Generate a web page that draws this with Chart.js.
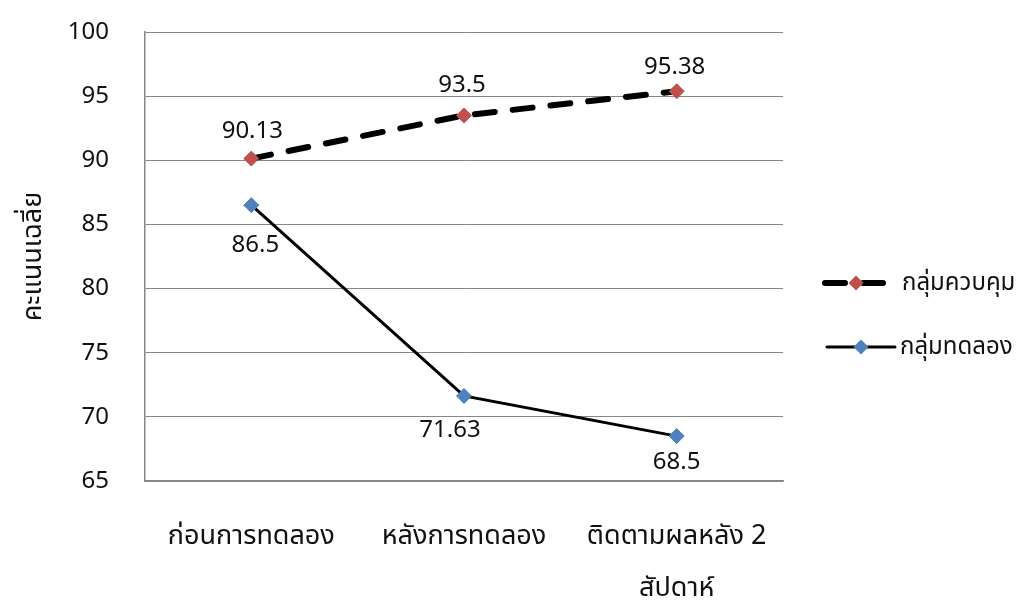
<!DOCTYPE html>
<html>
<head>
<meta charset="utf-8">
<script src="https://cdn.jsdelivr.net/npm/chart.js@4.4.1/dist/chart.umd.min.js"></script>
<style>
  html, body { margin: 0; padding: 0; background: #ffffff; }
  #wrap { width: 1019px; height: 601px; position: relative; }
</style>
</head>
<body>
<div id="wrap"><canvas id="chart"></canvas></div>
<script>
// Mean scores of the two groups at each measurement point
const categories = ['ก่อนการทดลอง', 'หลังการทดลอง', ['ติดตามผลหลัง 2', 'สัปดาห์']];
const controlScores = [90.13, 93.5, 95.38];
const experimentScores = [86.5, 71.63, 68.5];
const seriesNames = ['กลุ่มควบคุม', 'กลุ่มทดลอง'];
const axisTitle = 'คะแนนเฉลี่ย';
const yMin = 65;
const yMax = 100;
const yStep = 5;

const FONT = "'Noto Sans', 'Noto Sans Thai', 'DejaVu Sans', sans-serif";
const GRID = '#878787';
const TEXT = '#111111';
const RED = '#C0504D';
const BLUE = '#4F81BD';

// Value labels beside each point, offset per point (dx, dy from the marker)
const valueLabels = {
  id: 'valueLabels',
  afterDatasetsDraw(chart) {
    const ctx = chart.ctx;
    ctx.save();
    ctx.font = '24px ' + FONT;
    ctx.fillStyle = TEXT;
    ctx.textAlign = 'center';
    ctx.textBaseline = 'middle';
    chart.data.datasets.forEach((ds, di) => {
      const meta = chart.getDatasetMeta(di);
      meta.data.forEach((pt, i) => {
        const off = ds.labelOffsets[i];
        ctx.fillText(String(ds.data[i]), pt.x + off[0], pt.y + off[1]);
      });
    });
    ctx.restore();
  }
};

// Legend at the right: line sample with marker, then the series name
const sideLegend = {
  id: 'sideLegend',
  afterDraw(chart) {
    const ctx = chart.ctx;
    const items = [
      { name: seriesNames[0], y: 283, x0: 825, x1: 887, width: 6, dash: [20, 18], color: RED, tx: 902 },
      { name: seriesNames[1], y: 347, x0: 827, x1: 895, width: 3, dash: [], color: BLUE, tx: 900 }
    ];
    items.forEach(it => {
      ctx.save();
      ctx.strokeStyle = '#000000';
      ctx.lineWidth = it.width;
      ctx.lineCap = 'round';
      ctx.setLineDash(it.dash);
      ctx.beginPath();
      ctx.moveTo(it.x0, it.y);
      ctx.lineTo(it.x1, it.y);
      ctx.stroke();
      ctx.setLineDash([]);
      const cx = (it.x0 + it.x1) / 2, r = 7.5;
      ctx.fillStyle = it.color;
      ctx.beginPath();
      ctx.moveTo(cx, it.y - r);
      ctx.lineTo(cx + r, it.y);
      ctx.lineTo(cx, it.y + r);
      ctx.lineTo(cx - r, it.y);
      ctx.closePath();
      ctx.fill();
      ctx.font = '24px ' + FONT;
      ctx.fillStyle = TEXT;
      ctx.textAlign = 'left';
      ctx.textBaseline = 'middle';
      ctx.fillText(it.name, it.tx, it.y);
      ctx.restore();
    });
  }
};

new Chart(document.getElementById('chart'), {
  type: 'line',
  data: {
    labels: categories,
    datasets: [
      {
        label: seriesNames[0],
        data: controlScores,
        borderColor: '#000000',
        borderWidth: 6,
        borderDash: [20, 18],
        borderCapStyle: 'round',
        pointStyle: 'rectRot',
        pointRadius: 7.5,
        pointBorderWidth: 1,
        pointBackgroundColor: RED,
        pointBorderColor: RED,
        tension: 0,
        labelOffsets: [[1, -27], [-2, -30], [-2, -24]]
      },
      {
        label: seriesNames[1],
        data: experimentScores,
        borderColor: '#000000',
        borderWidth: 3,
        pointStyle: 'rectRot',
        pointRadius: 7.5,
        pointBorderWidth: 1,
        pointBackgroundColor: BLUE,
        pointBorderColor: BLUE,
        tension: 0,
        labelOffsets: [[4, 40], [-14, 34], [0, 26]]
      }
    ]
  },
  options: {
    responsive: true,
    maintainAspectRatio: false,
    animation: false,
    layout: { padding: { top: 32, right: 236, left: 0, bottom: 0 } },
    plugins: {
      legend: { display: false },
      tooltip: { enabled: false }
    },
    scales: {
      x: {
        offset: true,
        grid: { display: false, drawTicks: false },
        border: { display: true, color: GRID, width: 1.5 },
        ticks: {
          color: TEXT,
          font: { family: FONT, size: 27, lineHeight: '52px' },
          padding: 29,
          maxRotation: 0,
          minRotation: 0,
          autoSkip: false
        },
        afterFit(scale) { scale.height = 120; }
      },
      y: {
        min: yMin,
        max: yMax,
        grid: { color: GRID, lineWidth: 1, drawTicks: false },
        border: { display: true, color: GRID, width: 1.5 },
        ticks: {
          stepSize: yStep,
          color: TEXT,
          font: { family: FONT, size: 24 },
          padding: 36
        },
        title: {
          display: true,
          text: axisTitle,
          color: TEXT,
          font: { family: FONT, size: 27 },
          padding: { top: 17, bottom: 0 }
        },
        afterFit(scale) {
          scale.width = 145;
          scale.paddingTop = 0;
          scale.paddingBottom = 0;
        }
      }
    }
  },
  plugins: [valueLabels, sideLegend]
});
</script>
</body>
</html>
